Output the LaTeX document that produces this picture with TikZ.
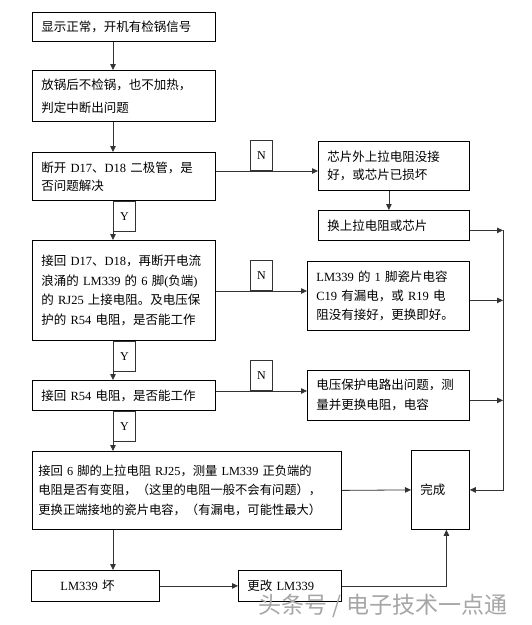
\documentclass[tikz,border=0pt]{standalone}
\usepackage{fontspec}
\setmainfont{Noto Sans CJK SC}
\newfontfamily\latfont{Liberation Serif}
\newcommand\lat[1]{{\latfont #1}}
\usetikzlibrary{arrows.meta}
\tikzset{
  blk/.style={draw=black,line width=0.8pt,anchor=north west,align=left,inner xsep=9pt,inner ysep=0pt,font=\fontsize{12.5}{19.5}\selectfont},
  yn/.style={draw=black!80,line width=0.8pt,minimum width=22pt,minimum height=30pt,inner sep=0pt,font=\latfont\fontsize{12}{12}\selectfont},
  arr/.style={-{Triangle[length=6pt,width=5.5pt]},draw=black!80,line width=0.8pt}
}

\begin{document}
\begin{tikzpicture}[x=1pt,y=-1pt]
\useasboundingbox[fill=white] (0,0) rectangle (532,625);
%guide lines
\coordinate (midline) at (113,0);
\coordinate (rail) at (503,0);
%left column
\node[blk,minimum width=183pt,minimum height=29pt,text width=165pt] (show) at (32,12) {显示正常，开机有检锅信号};
\node[blk,minimum width=183pt,minimum height=51pt,text width=165pt,font=\fontsize{12.5}{23}\selectfont] (nopot) at (32,70)
{放锅后不检锅，也不加热，\\判定中断出问题};
\node[blk,minimum width=183pt,minimum height=48pt,text width=165pt,font=\fontsize{12.5}{18}\selectfont] (diode) at (32,152)
{断开 \lat{D17}、\lat{D18} 二极管，是\\否问题解决};
\node[blk,minimum width=183pt,minimum height=100pt,text width=165pt] (rj25) at (32,240)
{接回 \lat{D17}、\lat{D18}，再断开电流\\
浪涌的 \lat{LM339} 的 \lat{6} 脚\lat{(}负端\lat{)}\\
的 \lat{RJ25} 上接电阻。及电压保\\
护的 \lat{R54} 电阻，是否能工作};
\node[blk,minimum width=183pt,minimum height=30pt,text width=165pt] (r54) at (32,380)
{接回 \lat{R54} 电阻，是否能工作};
\node[blk,minimum width=309pt,minimum height=78pt,text width=297pt,inner xsep=6pt,font=\fontsize{12.3}{19.5}\selectfont] (cap) at (32,451)
{接回 \lat{6} 脚的上拉电阻 \lat{RJ25}，测量 \lat{LM339} 正负端的\\
电阻是否有变阻，（这里的电阻一般不会有问题），\\
更换正端接地的瓷片电容，（有漏电，可能性最大）};
\node[blk,minimum width=128pt,minimum height=31pt,text width=70pt,inner xsep=29pt] (lmbad) at (31,570)
{\lat{LM339} 坏};
\node[blk,minimum width=103pt,minimum height=31pt,text width=85pt] (lmnew) at (238,570)
{更改 \lat{LM339}};
%right column
\node[blk,minimum width=151pt,minimum height=49pt,text width=133pt,font=\fontsize{12.5}{18}\selectfont] (pullup) at (318,141)
{芯片外上拉电阻没接\\好，或芯片已损坏};
\node[blk,minimum width=151pt,minimum height=30pt,text width=133pt] (chip) at (318,210)
{换上拉电阻或芯片};
\node[blk,minimum width=162pt,minimum height=69pt,text width=144pt,font=\fontsize{12.5}{19}\selectfont] (c19) at (307,261)
{\lat{LM339} 的 \lat{1} 脚瓷片电容\\
\lat{C19} 有漏电，或 \lat{R19} 电\\
阻没有接好，更换即好。};
\node[blk,minimum width=162pt,minimum height=50pt,text width=144pt,font=\fontsize{12.5}{20}\selectfont] (volt) at (307,370)
{电压保护电路出问题，测\\量并更换电阻，电容};
\node[blk,minimum width=58pt,minimum height=79pt,text width=40pt] (done) at (411,450)
{完成};
%Y labels
\node[yn,anchor=north west] (y1) at (diode.south -| midline) {Y};
\node[yn,anchor=north west] (y2) at (rj25.south -| midline) {Y};
\node[yn,anchor=north west] (y3) at (r54.south -| midline) {Y};
%N labels
\node[yn,anchor=south west] (n1) at (250,171) {N};
\node[yn,anchor=south west] (n2) at (250,291) {N};
\node[yn,anchor=south west] (n3) at (250,391) {N};
%main flow
\draw[arr] (show.south -| midline) -- (nopot.north -| midline);
\draw[arr] (nopot.south -| midline) -- (diode.north -| midline);
\draw[arr] (diode.south -| midline) -- (rj25.north -| midline);
\draw[arr] (rj25.south -| midline) -- (r54.north -| midline);
\draw[arr] (r54.south -| midline) -- (cap.north -| midline);
\draw[arr] (cap.south -| midline) -- (lmbad.north -| midline);
\draw[arr] (lmbad.east) -- (lmnew.west);
\draw[arr] (lmnew.east) -| ([xshift=6pt]done.south);
\draw[arr] (cap.east) -- (done.west);
%N branches
\draw[arr] (diode.east |- n1.south) -- (pullup.west |- n1.south);
\draw[arr] ([xshift=-5pt]pullup.south) -- ([xshift=-5pt]chip.north);
\draw[arr] (rj25.east |- n2.south) -- (c19.west |- n2.south);
\draw[arr] (r54.east |- n3.south) -- (volt.west |- n3.south);
%right rail
\draw[arr] ([yshift=-5pt]chip.east) -- ([yshift=-5pt]chip.east -| rail);
\draw[arr] ([yshift=-4.5pt]c19.east) -- ([yshift=-4.5pt]c19.east -| rail);
\draw[arr] ([yshift=-5pt]volt.east) -- ([yshift=-5pt]volt.east -| rail);
\draw[arr] ([yshift=-5pt]chip.east -| rail) -- (rail |- done.east) -- (done.east);
%watermark
\node[anchor=west,inner sep=0pt,text=black!35,font=\fontsize{23}{23}\selectfont] (mark) at (258,606) {头条号 / 电子技术一点通};
\end{tikzpicture}
\end{document}
